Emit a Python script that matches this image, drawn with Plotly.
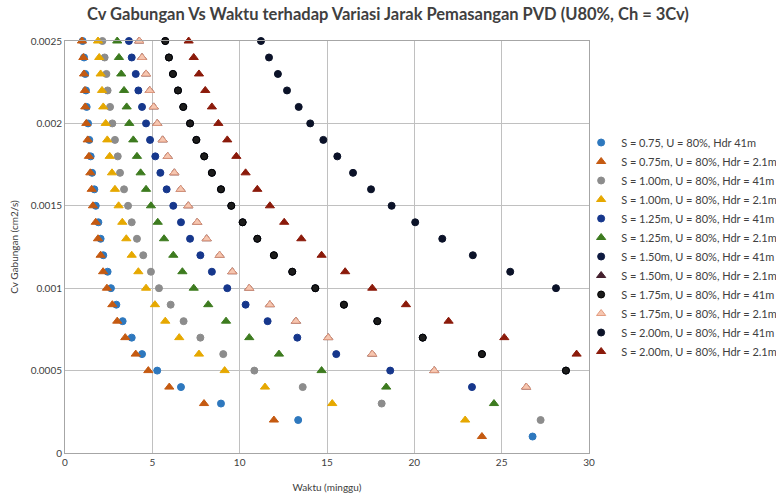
import plotly.graph_objects as go

# Cv Gabungan levels (cm2/s), top to bottom
cv_levels = [0.0025, 0.0024, 0.0023, 0.0022, 0.0021, 0.0020, 0.0019, 0.0018, 0.0017,
             0.0016, 0.0015, 0.0014, 0.0013, 0.0012, 0.0011, 0.0010, 0.0009, 0.0008,
             0.0007, 0.0006, 0.0005, 0.0004, 0.0003, 0.0002, 0.0001]

# Waktu (minggu) for each series, in the same order as cv_levels
t_s075_41 = [1.01, 1.09, 1.16, 1.20, 1.24, 1.32, 1.39, 1.47, 1.55, 1.68, 1.76, 1.91, 2.04,
             2.19, 2.44, 2.63, 2.94, 3.30, 3.82, 4.41, 5.28, 6.64, 8.93, 13.35, 26.77]
t_s075_21 = [0.97, 1.05, 1.09, 1.14, 1.16, 1.22, 1.30, 1.37, 1.45, 1.53, 1.60, 1.76, 1.89,
             2.04, 2.18, 2.40, 2.71, 2.99, 3.45, 4.05, 4.77, 5.97, 7.96, 11.96, 23.87]
t_s100_41 = [2.14, 2.27, 2.37, 2.44, 2.58, 2.71, 2.86, 3.02, 3.15, 3.38, 3.61, 3.82, 4.12,
             4.48, 4.92, 5.38, 6.05, 6.79, 7.75, 9.06, 10.84, 13.61, 18.13, 27.23]
t_s100_21 = [1.89, 1.96, 2.04, 2.12, 2.19, 2.33, 2.42, 2.56, 2.69, 2.86, 3.07, 3.28, 3.51,
             3.82, 4.20, 4.64, 5.15, 5.74, 6.54, 7.67, 9.14, 11.45, 15.30, 22.91]
t_s125_41 = [3.66, 3.82, 4.05, 4.20, 4.41, 4.64, 4.87, 5.17, 5.46, 5.82, 6.20, 6.64, 7.16,
             7.75, 8.41, 9.29, 10.34, 11.60, 13.30, 15.53, 18.62, 23.30]
t_s125_21 = [2.99, 3.09, 3.22, 3.38, 3.53, 3.68, 3.91, 4.12, 4.33, 4.64, 4.92, 5.31, 5.67,
             6.20, 6.72, 7.37, 8.20, 9.22, 10.55, 12.25, 14.69, 18.39, 24.56]
t_s150_41 = [5.74, 5.95, 6.18, 6.47, 6.77, 7.16, 7.52, 7.97, 8.41, 8.93, 9.52, 10.17, 11.01,
             11.96, 13.01, 14.33, 15.97, 17.88, 20.48, 23.87, 28.68]
t_s150_21 = [4.25, 4.41, 4.64, 4.85, 5.08, 5.28, 5.59, 5.88, 6.26, 6.62, 7.06, 7.57, 8.11,
             8.85, 9.58, 10.55, 11.73, 13.22, 15.07, 17.59, 21.14, 26.41]
t_s175_41 = [5.74, 5.95, 6.18, 6.47, 6.77, 7.16, 7.52, 7.97, 8.41, 8.93, 9.52, 10.17, 11.01,
             11.96, 13.01, 14.33, 15.97, 17.88, 20.48, 23.87, 28.68]
t_s175_21 = [4.25, 4.41, 4.64, 4.85, 5.08, 5.28, 5.59, 5.88, 6.26, 6.62, 7.06, 7.57, 8.11,
             8.85, 9.58, 10.55, 11.73, 13.22, 15.07, 17.59, 21.14, 26.41]
t_s200_41 = [11.22, 11.68, 12.19, 12.71, 13.38, 14.04, 14.79, 15.59, 16.49, 17.52, 18.70,
             20.05, 21.60, 23.35, 25.49, 28.11]
t_s200_21 = [7.08, 7.37, 7.67, 8.03, 8.41, 8.78, 9.29, 9.81, 10.34, 11.01, 11.73, 12.55, 13.53,
             14.69, 16.04, 17.59, 19.52, 21.96, 25.15, 29.29]

series_names = [
    "S = 0.75, U = 80%, Hdr 41m",
    "S = 0.75m, U = 80%, Hdr = 2.1m",
    "S = 1.00m, U = 80%, Hdr = 41m",
    "S = 1.00m, U = 80%, Hdr = 2.1m",
    "S = 1.25m, U = 80%, Hdr = 41m",
    "S = 1.25m, U = 80%, Hdr = 2.1m",
    "S = 1.50m, U = 80%, Hdr = 41m",
    "S = 1.50m, U = 80%, Hdr = 2.1m",
    "S = 1.75m, U = 80%, Hdr = 41m",
    "S = 1.75m, U = 80%, Hdr = 2.1m",
    "S = 2.00m, U = 80%, Hdr = 41m",
    "S = 2.00m, U = 80%, Hdr = 2.1m",
]
series_times = [t_s075_41, t_s075_21, t_s100_41, t_s100_21, t_s125_41, t_s125_21,
                t_s150_41, t_s150_21, t_s175_41, t_s175_21, t_s200_41, t_s200_21]
series_symbols = ["circle", "triangle-up"] * 6
series_fill = ["#2E78BE", "#C55A11", "#8C8C8C", "#E6A800", "#16378C", "#3D7B1F",
               "#0E1A40", "#44202E", "#1C1C1C", "#F6C6B0", "#0B1228", "#8B1A0A"]
series_line = ["#2E78BE", "#C55A11", "#8C8C8C", "#E6A800", "#16378C", "#3D7B1F",
               "#0E1A40", "#44202E", "#000000", "#E39C80", "#0B1228", "#8B1A0A"]

x_tick_vals = [0, 5, 10, 15, 20, 25, 30]
y_tick_vals = [0, 0.0005, 0.001, 0.0015, 0.002, 0.0025]
y_tick_labels = ["0", "0.0005", "0.001", "0.0015", "0.002", "0.0025"]

FONT = "Lato, 'Open Sans', sans-serif"

fig = go.Figure()
for name, t, sym, fc, lc in zip(series_names, series_times, series_symbols, series_fill, series_line):
    fig.add_trace(go.Scatter(
        x=t, y=cv_levels[:len(t)], mode="markers", name=name, cliponaxis=False,
        marker=dict(symbol=sym, size=7 if sym == "circle" else 8, color=fc,
                    line=dict(color=lc, width=1)),
    ))

fig.update_layout(
    width=776, height=496,
    margin=dict(l=65, r=187, t=41, b=43, autoexpand=False),
    paper_bgcolor="white", plot_bgcolor="white",
    font=dict(family=FONT, size=10, color="#404040"),
    title=dict(text="<b>Cv Gabungan Vs Waktu terhadap Variasi Jarak Pemasangan PVD (U80%, Ch = 3Cv)</b>",
               x=0.5, xanchor="center", y=0.972, yanchor="middle",
               font=dict(family=FONT, size=16.5, color="#404040")),
    legend=dict(x=0.985, xanchor="left", y=0.5, yanchor="middle",
                font=dict(family=FONT, size=11, color="#404040"),
                bgcolor="rgba(0,0,0,0)", itemwidth=30),
    showlegend=True,
)
fig.update_xaxes(
    range=[0, 30], tickvals=x_tick_vals, showgrid=True, gridcolor="#C0C0C0", gridwidth=1,
    showline=True, linecolor="#A6A6A6", linewidth=1, mirror=True, zeroline=False,
    ticks="", tickfont=dict(size=10, color="#404040"), automargin=False,
    title=dict(text="Waktu (minggu)", font=dict(size=10, color="#404040"), standoff=16),
)
fig.update_yaxes(
    range=[0, 0.0025], tickvals=y_tick_vals, ticktext=y_tick_labels, showgrid=True,
    gridcolor="#C0C0C0", gridwidth=1, showline=True, linecolor="#A6A6A6", linewidth=1,
    mirror=True, zeroline=False, ticks="", tickfont=dict(size=10, color="#404040"),
    automargin=False,
    title=dict(text="Cv Gabungan (cm2/s)", font=dict(size=10, color="#404040"), standoff=10),
)

fig.write_html("out.html")
